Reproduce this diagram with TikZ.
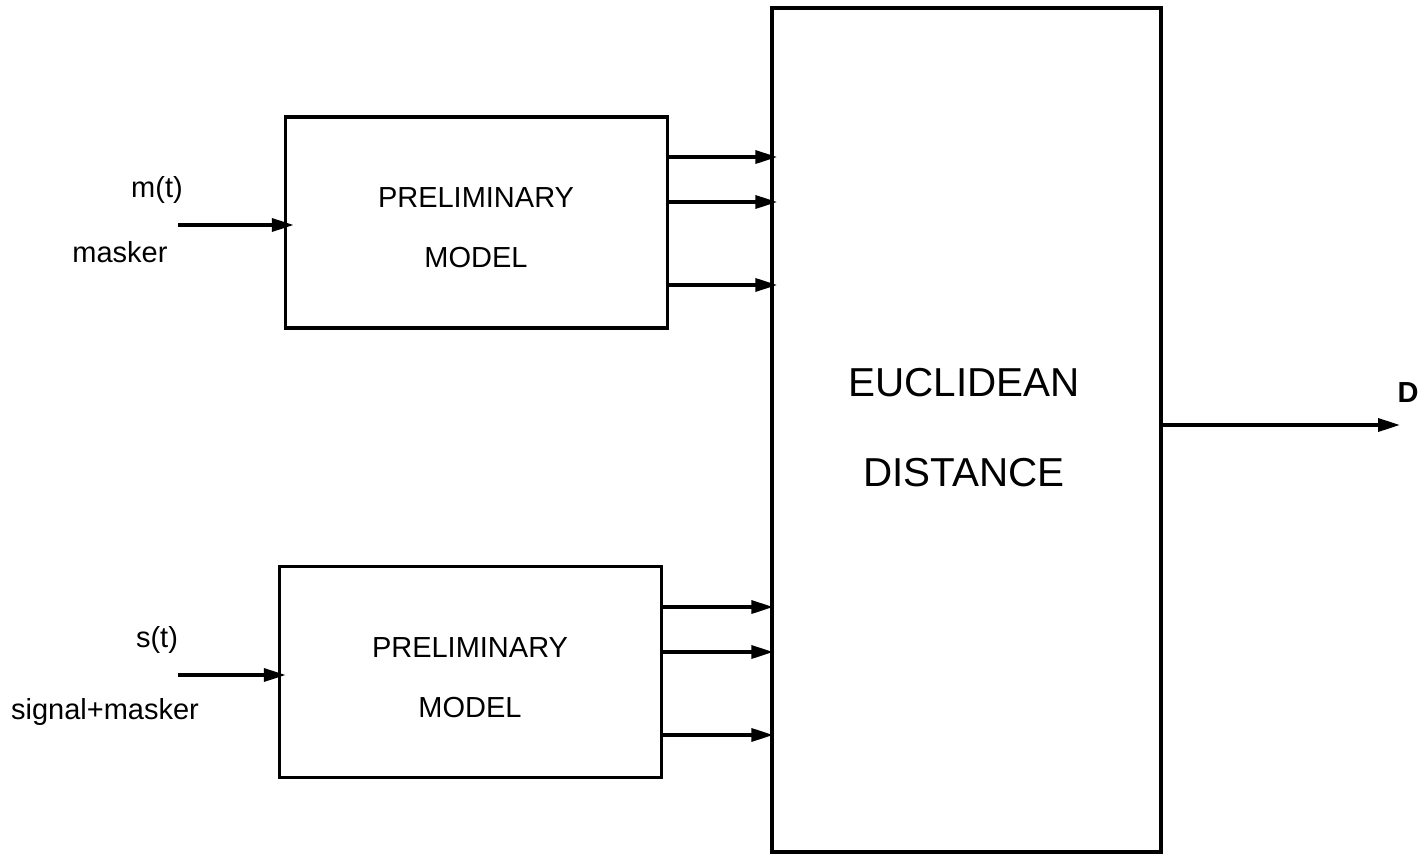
\documentclass[tikz,border=0pt]{standalone}
\usepackage{fontspec}
\setmainfont{Liberation Sans}
\usetikzlibrary{positioning,arrows.meta,calc}

\begin{document}
\begin{tikzpicture}[
  x=0.02cm, y=-0.02cm,
  font=\fontsize{16.5}{20}\selectfont,
  blk/.style={draw=black, line width=2pt, inner sep=0pt},
  modelbox/.style={blk, minimum width=7.64cm, minimum height=4.22cm},
  sig/.style={-{Triangle[length=4.4mm, width=2.6mm]}, line width=2pt},
  lbl/.style={inner sep=1pt},
  big/.style={lbl, font=\fontsize{23}{27}\selectfont}
]
\useasboundingbox (0,0) rectangle (1427,855);
% ---------- blocks ----------
\node[modelbox] (pmtop) at (476.5,222.5) {};
\node[lbl] (pmtopa) at (476,198) {PRELIMINARY};
\node[lbl] (pmtopb) at (476,258) {MODEL};
\node[modelbox] (pmbot) at (470.5,672) {};
\node[lbl] (pmbota) at (470,648) {PRELIMINARY};
\node[lbl] (pmbotb) at (470,708) {MODEL};
\node[blk, minimum width=7.78cm, minimum height=16.88cm] (euclid) at (966.5,430) {};
\node[big] (euca) at (964,383) {EUCLIDEAN};
\node[big] (eucb) at (964,473) {DISTANCE};
% ---------- inputs ----------
\coordinate (mtin) at (178,225);
\coordinate (stin) at (178,675);
\node[lbl] (mtlab) at (157,190) {m(t)};
\node[lbl] (masklab) at (120,252) {masker};
\node[lbl] (stlab) at (157,640) {s(t)};
\node[lbl] (sigmlab) at (105,712) {signal+masker};
\draw[sig, shorten >=-0.2cm] (mtin) -- (mtin -| pmtop.west);
\draw[sig, shorten >=-0.16cm] (stin) -- (stin -| pmbot.west);
% ---------- model outputs ----------
\foreach \dy in {1.31,0.41,-1.25}
  \draw[sig, shorten >=-0.14cm] ([yshift=\dy cm]pmtop.east) -- ([yshift=\dy cm]pmtop.east -| euclid.west);
\foreach \dy in {1.30,0.40,-1.26}
  \draw[sig, shorten >=-0.06cm] ([yshift=\dy cm]pmbot.east) -- ([yshift=\dy cm]pmbot.east -| euclid.west);
% ---------- distance out ----------
\coordinate (dout) at (1400,425);
\draw[sig] (euclid.east |- dout) -- (dout);
\node[lbl, font=\fontsize{16.5}{20}\selectfont\bfseries] (dlab) at (1408,393) {D};
\end{tikzpicture}
\end{document}
